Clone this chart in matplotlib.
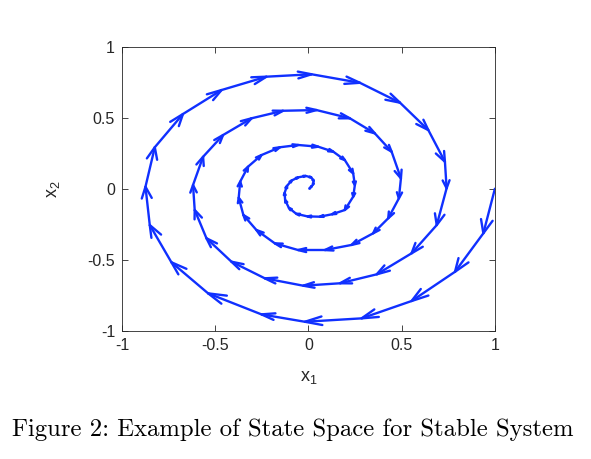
import matplotlib as mpl
mpl.use('Agg')
import matplotlib.pyplot as plt

# state trajectory (x1, x2), one ring per line
x1 = [1.000, 0.938, 0.786, 0.553, 0.285, -0.019, -0.252, -0.538, -0.735, -0.851, -0.874, -0.824, -0.673, -0.466, -0.225, 0.017, 0.276, 0.491, 0.643, 0.732,
      0.741, 0.688, 0.553, 0.366, 0.169, -0.028, -0.234, -0.413, -0.547, -0.610, -0.619, -0.565, -0.458, -0.305, -0.136, 0.043, 0.222, 0.356, 0.446, 0.496,
      0.485, 0.428, 0.347, 0.231, 0.088, -0.055, -0.180, -0.279, -0.349, -0.374, -0.366, -0.324, -0.252, -0.153, -0.055, 0.052, 0.133, 0.195, 0.240, 0.249,
      0.240, 0.195, 0.126, 0.061, -0.005, -0.065, -0.105, -0.125, -0.128, -0.115, -0.090, -0.055, -0.015, 0.015, 0.028, 0.025, 0.012, 0.005]
x2 = [0.000, -0.314, -0.585, -0.791, -0.913, -0.937, -0.885, -0.737, -0.518, -0.256, 0.014, 0.292, 0.526, 0.695, 0.789, 0.806, 0.746, 0.606, 0.413, 0.190,
      0.003, -0.256, -0.455, -0.603, -0.666, -0.683, -0.631, -0.514, -0.349, -0.150, 0.026, 0.225, 0.378, 0.496, 0.549, 0.554, 0.496, 0.390, 0.261, 0.073,
      -0.068, -0.208, -0.314, -0.396, -0.432, -0.432, -0.385, -0.291, -0.185, -0.063, 0.050, 0.155, 0.237, 0.292, 0.308, 0.296, 0.261, 0.202, 0.108, 0.026,
      -0.056, -0.150, -0.180, -0.197, -0.195, -0.177, -0.135, -0.080, -0.030, 0.020, 0.058, 0.080, 0.090, 0.080, 0.055, 0.030, 0.010, 0.000]

ticks = [-1, -0.5, 0, 0.5, 1]
tick_labels = ['-1', '-0.5', '0', '0.5', '1']

plt.rcParams['font.family'] = ['Liberation Sans', 'DejaVu Sans']
plt.rcParams['mathtext.fontset'] = 'custom'
plt.rcParams['mathtext.rm'] = 'Liberation Sans'

blue = '#1030ff'
fig = plt.figure(figsize=(5.91, 4.59), dpi=100)
ax = fig.add_axes([0.2064, 0.2795, 0.631, 0.6187])

# matlab-like quiver: segment plus open arrow head at the end
alpha, beta = 0.3, 0.33
for i in range(len(x1) - 1):
    u = x1[i + 1] - x1[i]
    v = x2[i + 1] - x2[i]
    tx, ty = x1[i + 1], x2[i + 1]
    ax.plot([x1[i], tx], [x2[i], ty], color=blue, lw=1.7, solid_capstyle='round')
    ax.plot([tx - alpha * (u + beta * v), tx, tx - alpha * (u - beta * v)],
            [ty - alpha * (v - beta * u), ty, ty - alpha * (v + beta * u)],
            color=blue, lw=1.7, solid_capstyle='round', solid_joinstyle='miter')

ax.set_xlim(-1, 1)
ax.set_ylim(-1, 1)
ax.set_xticks(ticks)
ax.set_xticklabels(tick_labels)
ax.set_yticks(ticks)
ax.set_yticklabels(tick_labels)
ax.tick_params(direction='in', top=True, right=True, length=4, width=0.6,
               color='#262626', labelsize=11.5, labelcolor='#262626', pad=5)
for s in ax.spines.values():
    s.set_linewidth(0.6)
    s.set_color('#262626')

ax.set_xlabel(r'$\mathregular{x_1}$', fontsize=13, color='#262626', labelpad=12)
ax.set_ylabel(r'$\mathregular{x_2}$', fontsize=13, color='#262626', labelpad=18)

fig.text(0.496, 1 - 430 / 459, 'Figure 2: Example of State Space for Stable System',
         family='cmr10', fontsize=17.8, ha='center', va='center')

fig.savefig('out.png', dpi=100)
